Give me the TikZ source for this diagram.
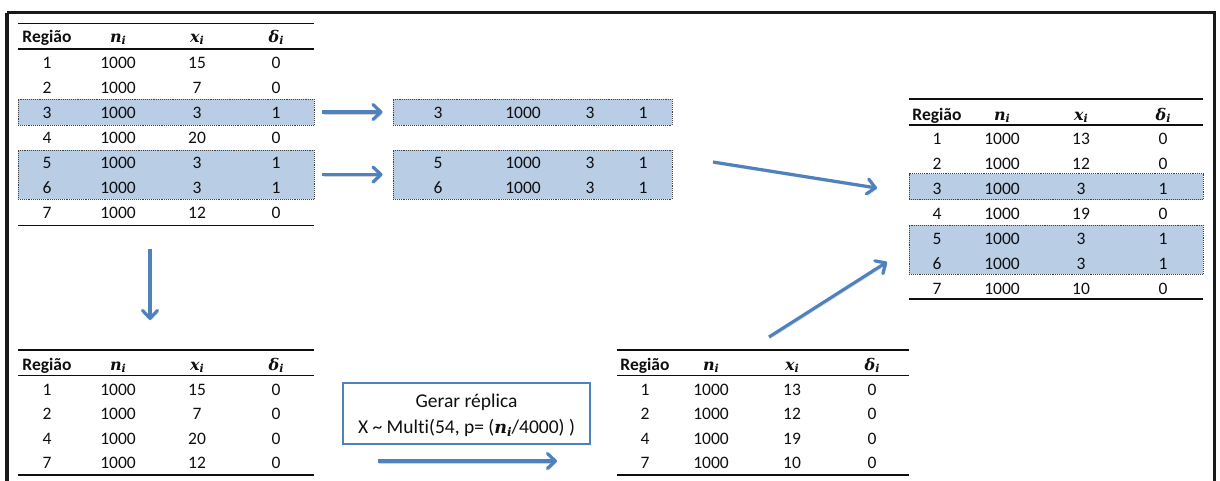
\documentclass[tikz,border=0pt]{standalone}
\usepackage{fontspec}
\setmainfont{Carlito}[Ligatures=NoCommon]
\newfontfamily\symserif{DejaVu Serif}
\usetikzlibrary{arrows.meta}

\definecolor{arrblue}{RGB}{79,129,189}
\definecolor{bandfill}{RGB}{185,205,229}
\definecolor{ink}{RGB}{15,15,15}

\newcommand\cellfont{\fontsize{17.5}{21}\selectfont}
% bold italic symbol with lowered index: [size of letter]{size of index}{letter}{index}
\newcommand\bsym[4][16]{{\symserif\bfseries\itshape
  \fontsize{#1}{#1}\selectfont #3\raisebox{-2.5pt}{\fontsize{#2}{#2}\selectfont #4}}}

% one body row of a table: name prefix, baseline, four entries
\newcommand\tblrow[6]{%
  \node[cell] (#1a) at (\cA,#2) {#3};
  \node[cell] (#1b) at (\cB,#2) {#4};
  \node[cell] (#1c) at (\cC,#2) {#5};
  \node[cell] (#1d) at (\cD,#2) {#6};}

% header row of a table: name prefix, baseline
\newcommand\tblhead[2]{%
  \node[cell,font=\cellfont\bfseries] (#1a) at (\cA,#2) {Região};
  \node[cell] (#1b) at (\cB,#2) {\bsym{11}{n}{i}};
  \node[cell] (#1c) at (\cC,#2) {\bsym{11}{x}{i}};
  \node[cell] (#1d) at (\cD,#2) {\bsym{11}{δ}{i}};}

\tikzset{
  cell/.style={anchor=base, inner sep=0pt, font=\cellfont, text=ink},
  rule/.style={draw=ink, line width=1.8pt},
  band/.style={fill=bandfill, draw=black!75, densely dotted, line width=0.9pt,
               inner sep=0pt},
  arr/.style={draw=arrblue, line width=3.2pt,
              -{Straight Barb[length=8pt,width=15pt,round]},
              preaction={draw=black, draw opacity=0.18,
                         transform canvas={shift={(1.2,1.8)}}}},
  genbox/.style={draw=arrblue, line width=2.2pt, fill=white,
                 minimum width=247pt, minimum height=61pt},
  gentext/.style={anchor=base, inner sep=0pt, text=ink,
                  font=\fontsize{19.5}{23}\selectfont},
}

\begin{document}
\begin{tikzpicture}[x=1pt,y=-1pt]
\useasboundingbox (0,0) rectangle (1220,480);

% outer frame
\draw[line width=3.6pt, draw=black!90] (7,12.5) -- (1214.5,12.5) -- (1214.5,495)
      (7,12.5) -- (7,495);

% ---------- full sample (top left) ----------
\node[band, minimum width=296pt, minimum height=26pt] (A3) at (166,112) {};
\node[band, minimum width=296pt, minimum height=49pt] (A56) at (166,174.5) {};
\draw[rule] (18,23.5) -- (314,23.5);
\draw[rule] (18,49) -- (314,49);
\draw[rule] (18,225.5) -- (314,225.5);
\def\cA{47}\def\cB{118}\def\cC{197}\def\cD{276}
\tblhead{ah}{42}
\tblrow{a1}{68}{1}{1000}{15}{0}
\tblrow{a2}{93}{2}{1000}{7}{0}
\tblrow{a3}{118}{3}{1000}{3}{1}
\tblrow{a4}{143}{4}{1000}{20}{0}
\tblrow{a5}{168}{5}{1000}{3}{1}
\tblrow{a6}{193}{6}{1000}{3}{1}
\tblrow{a7}{218}{7}{1000}{12}{0}

% ---------- flagged regions (middle) ----------
\node[band, minimum width=279pt, minimum height=26pt] (M1) at (532.5,112) {};
\node[band, minimum width=279pt, minimum height=49pt] (M2) at (532.5,174.5) {};
\def\cA{438}\def\cB{523}\def\cC{590}\def\cD{643}
\tblrow{m3}{118}{3}{1000}{3}{1}
\tblrow{m5}{168}{5}{1000}{3}{1}
\tblrow{m6}{193}{6}{1000}{3}{1}

% ---------- replicated sample (right) ----------
\node[band, minimum width=294pt, minimum height=26pt] (B3) at (1056,186.5) {};
\node[band, minimum width=294pt, minimum height=49pt] (B56) at (1056,249.5) {};
\draw[rule] (909,99) -- (1203,99);
\draw[rule] (909,125) -- (1203,125);
\draw[rule] (909,299) -- (1203,299);
\def\cA{937}\def\cB{1002}\def\cC{1081}\def\cD{1163}
\tblhead{bh}{120}
\tblrow{b1}{144}{1}{1000}{13}{0}
\tblrow{b2}{169}{2}{1000}{12}{0}
\tblrow{b3}{194}{3}{1000}{3}{1}
\tblrow{b4}{219}{4}{1000}{19}{0}
\tblrow{b5}{244}{5}{1000}{3}{1}
\tblrow{b6}{269}{6}{1000}{3}{1}
\tblrow{b7}{294}{7}{1000}{10}{0}

% ---------- remaining regions (bottom left) ----------
\draw[rule] (18,350) -- (314,350);
\draw[rule] (18,375.5) -- (314,375.5);
\draw[rule] (18,475) -- (314,475);
\def\cA{47}\def\cB{118}\def\cC{197}\def\cD{276}
\tblhead{ch}{370}
\tblrow{c1}{395}{1}{1000}{15}{0}
\tblrow{c2}{419.5}{2}{1000}{7}{0}
\tblrow{c4}{444}{4}{1000}{20}{0}
\tblrow{c7}{468.5}{7}{1000}{12}{0}

% ---------- generated replicate (bottom right) ----------
\draw[rule] (617,350) -- (909,350);
\draw[rule] (617,375.5) -- (909,375.5);
\draw[rule] (617,475) -- (909,475);
\def\cA{645}\def\cB{711}\def\cC{792}\def\cD{872}
\tblhead{dh}{370}
\tblrow{d1}{395}{1}{1000}{13}{0}
\tblrow{d2}{419.5}{2}{1000}{12}{0}
\tblrow{d4}{444}{4}{1000}{19}{0}
\tblrow{d7}{468.5}{7}{1000}{10}{0}

% ---------- replicate generator ----------
\node[genbox] (gen) at (466.5,413.5) {};
\node[gentext] (genL1) at (466.5,407) {Gerar réplica};
\node[gentext] (genL2) at (466.5,433.5)
  {X \textasciitilde{} Multi(54, p= (\bsym[17.5]{12}{n}{i}/4000) )};

% ---------- arrow end points ----------
\coordinate (downS) at (150,249);
\coordinate (downE) at (150,320);
\coordinate (genS) at (378,461);
\coordinate (genE) at (557,461);
\coordinate (upS) at (769,337);
\coordinate (upE) at (887,262);
\coordinate (mergeS) at (713,162);
\coordinate (mergeE) at (877,188);

% ---------- arrows ----------
\draw[arr, shorten <=8pt, shorten >=10pt] (A3.east) -- (M1.west);
\draw[arr, shorten <=8pt, shorten >=10pt] (A56.east) -- (M2.west);
\draw[arr] (mergeS) -- (mergeE);
\draw[arr] (downS) -- (downE);
\draw[arr] (genS) -- (genE);
\draw[arr] (upS) -- (upE);
\end{tikzpicture}
\end{document}
